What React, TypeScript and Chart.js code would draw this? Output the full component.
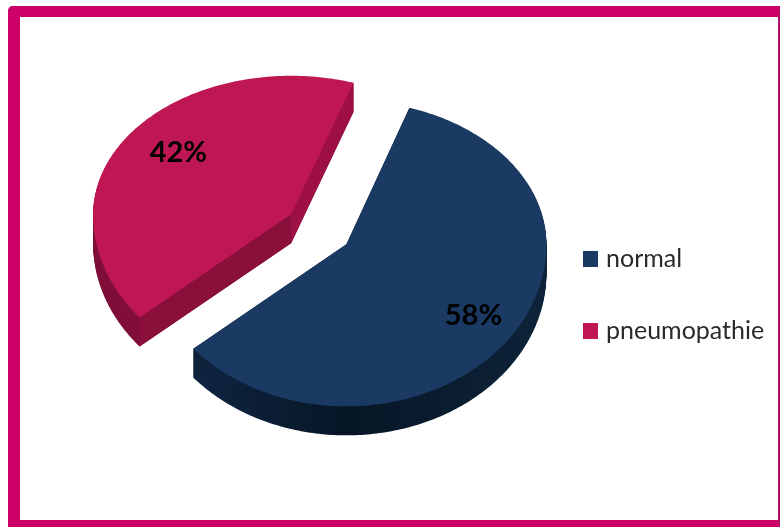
import React, { useEffect, useRef } from "react";
import { Chart, registerables } from "chart.js";

Chart.register(...registerables);

const categories = ["normal", "pneumopathie"];
const shares = [58, 42];
const topColors = ["#1A3A63", "#BF1754"];
const rimStops = [
  ["#12294A", "#071626", "#0E2339"],
  ["#7E0E38", "#8A0F3A", "#8A0F3A"],
];
const cutColors = [["#0E2339", "#0E2339"], ["#9E1045", "#8A0F3A"]];

const DEPTH = 29;
const TOP_SQUASH = [0.72, 0.7];
const BOTTOM_SQUASH = 0.81;
const OFFSET_SQUASH = [0.85, 0.74];
const RADIUS_SCALE = [1, 0.99];
const SLICE_OFFSET = [128, 140];
const WARP = 0.03;
const LABEL_X = [0.77, 0.69];
const LABEL_Y = [0.78, 0.79];

const pie3d = {
  id: "pie3d",
  beforeDatasetDraw(chart: any) {
    const ctx = chart.ctx;
    const meta = chart.getDatasetMeta(0);
    const order = [1, 0];
    for (const i of order) {
      const el: any = meta.data[i];
      const rx = el.outerRadius * RADIUS_SCALE[i];
      const mid = (el.startAngle + el.endAngle) / 2;
      const d = el.options.offset / 4;
      const cx = el.x + Math.cos(mid) * d;
      const cy = el.y + Math.sin(mid) * d * OFFSET_SQUASH[i];
      const pt = (angle: number) => {
        const a = angle + WARP * Math.sin(angle);
        const s = Math.sin(a);
        return [cx + rx * Math.cos(a), cy + rx * (s > 0 ? BOTTOM_SQUASH : TOP_SQUASH[i]) * s];
      };
      const sector = (dy: number) => {
        ctx.beginPath();
        ctx.moveTo(cx, cy + dy);
        const n = 240;
        for (let k = 0; k <= n; k++) {
          const p = pt(el.startAngle + ((el.endAngle - el.startAngle) * k) / n);
          ctx.lineTo(p[0], p[1] + dy);
        }
        ctx.closePath();
      };
      const g = ctx.createLinearGradient(cx - rx, 0, cx + rx, 0);
      rimStops[i].forEach((c, k) => g.addColorStop(k / (rimStops[i].length - 1), c));
      ctx.fillStyle = g;
      for (let dy = DEPTH; dy > 0; dy--) {
        sector(dy);
        ctx.fill();
      }
      [el.startAngle, el.endAngle].forEach((a, k) => {
        const p = pt(a);
        ctx.fillStyle = cutColors[i][k === 0 ? 1 : 0];
        ctx.beginPath();
        ctx.moveTo(cx, cy);
        ctx.lineTo(p[0], p[1]);
        ctx.lineTo(p[0], p[1] + DEPTH);
        ctx.lineTo(cx, cy + DEPTH);
        ctx.closePath();
        ctx.fill();
      });
      sector(0);
      ctx.fillStyle = topColors[i];
      ctx.fill();
      const s = Math.sin(mid);
      const lx = cx + rx * Math.cos(mid) * LABEL_X[i];
      const ly = cy + rx * (s > 0 ? BOTTOM_SQUASH : TOP_SQUASH[i]) * s * LABEL_Y[i];
      ctx.fillStyle = "#000000";
      ctx.font = "bold 29px Lato";
      ctx.textAlign = "center";
      ctx.textBaseline = "middle";
      ctx.fillText(shares[i] + "%", lx, ly);
    }
    return false;
  },
  afterDraw(chart: any) {
    const ctx = chart.ctx;
    const ys = [259, 331];
    categories.forEach((label, i) => {
      ctx.fillStyle = topColors[i];
      ctx.fillRect(583, ys[i] - 8, 15, 16);
      ctx.fillStyle = "#2A2A2A";
      ctx.font = "25px Lato";
      ctx.textAlign = "left";
      ctx.textBaseline = "middle";
      ctx.fillText(label, 606, ys[i]);
    });
  },
};

export default function App() {
  const ref = useRef<HTMLCanvasElement>(null);
  useEffect(() => {
    const chart = new Chart(ref.current!, {
      type: "pie",
      data: {
        labels: categories,
        datasets: [{ data: shares, backgroundColor: topColors, offset: SLICE_OFFSET, borderWidth: 0 }],
      },
      options: {
        responsive: false,
        animation: false,
        events: [],
        rotation: 20,
        radius: 200,
        layout: { padding: { right: 140, bottom: 69 } },
        plugins: { legend: { display: false }, tooltip: { enabled: false } },
      },
      plugins: [pie3d],
    } as any);
    return () => chart.destroy();
  }, []);
  return (
    <div style={{ position: "absolute", left: 0, top: 0, width: 780, height: 527, background: "#fff", overflow: "hidden" }}>
      <canvas ref={ref} width={780} height={527} style={{ position: "absolute", left: 0, top: 0, display: "block" }} />
      <div
        style={{
          position: "absolute",
          left: 8,
          top: 6,
          width: 772,
          height: 521,
          boxSizing: "border-box",
          borderStyle: "solid",
          borderColor: "#CC0066",
          borderWidth: "11px 0 7px 12px",
          borderRightWidth: 2,
          borderRightColor: "#AD1060",
          borderTopLeftRadius: 5,
        }}
      />
    </div>
  );
}
